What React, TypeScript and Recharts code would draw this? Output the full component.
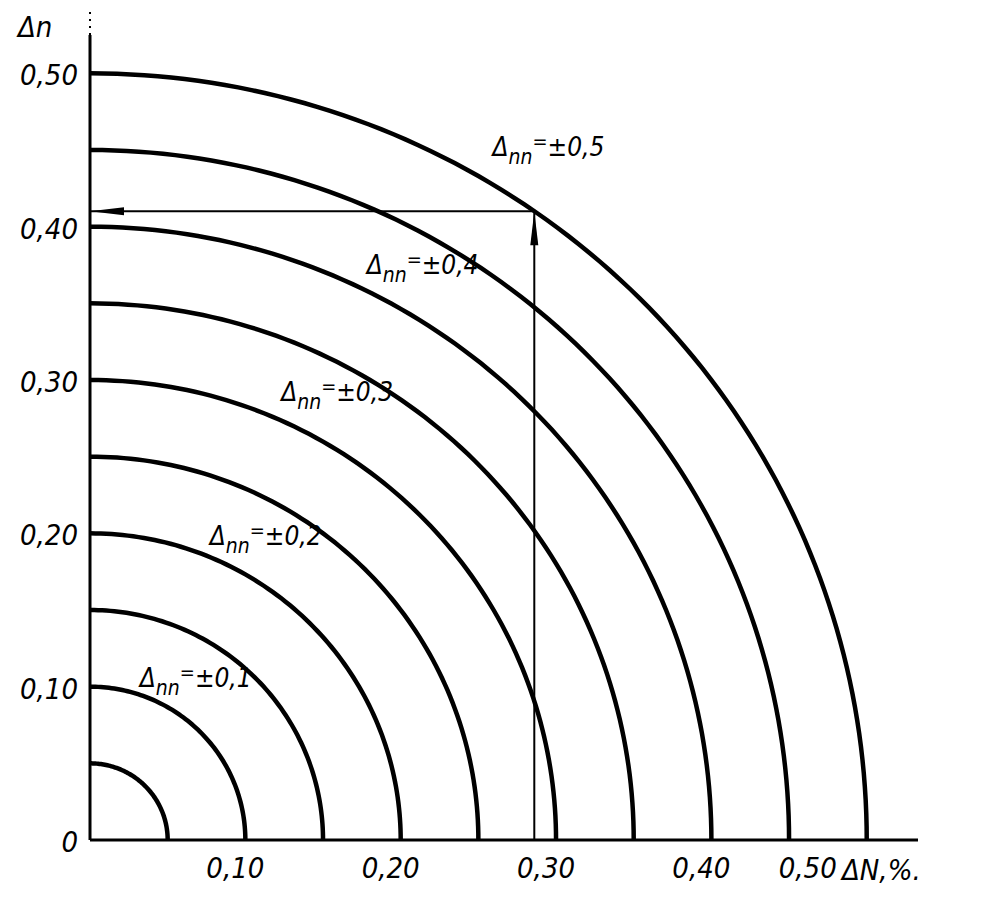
import React from 'react';
import { ComposedChart, Line, Scatter, XAxis, YAxis, Label } from 'recharts';

// Radii of the constant-error curves (Δ = ±r), in %
const radii = [0.05, 0.1, 0.15, 0.2, 0.25, 0.3, 0.35, 0.4, 0.45, 0.5];
// Angles (degrees) at which each quarter-circle is sampled
const sampleAngles = Array.from({ length: 91 }, (_, i) => i);
const xTicks = [0.1, 0.2, 0.3, 0.4, 0.5];
const xTickLabels = ['0,10', '0,20', '0,30', '0,40', '0,50'];
const yTicks = [0, 0.1, 0.2, 0.3, 0.4, 0.5];
const yTickLabels = ['0', '0,10', '0,20', '0,30', '0,40', '0,50'];
// Curve labels
const labelValues = ['±0,1', '±0,2', '±0,3', '±0,4', '±0,5'];
const labelX = [0.063, 0.108, 0.154, 0.209, 0.29];
const labelY = [0.104, 0.196, 0.29, 0.373, 0.45];
// Example reading (arrow)
const readX = 0.286;
const readY = 0.41;

const FONT = '"DejaVu Sans Condensed", "Liberation Sans Narrow", "DejaVu Sans", sans-serif';

const circle = (r: number) =>
  sampleAngles.map((a) => ({
    x: r * Math.cos((a * Math.PI) / 180),
    y: r * Math.sin((a * Math.PI) / 180),
  }));

const labelData = labelValues.map((v, i) => ({ x: labelX[i], y: labelY[i], text: v }));
const vertArrow = [
  { x: readX, y: 0 },
  { x: readX, y: readY },
];
const horizArrow = [
  { x: readX, y: readY },
  { x: 0, y: readY },
];

const CurveLabel = (props: any) => {
  const { cx, cy, payload } = props;
  if (cx == null || cy == null) return null;
  return (
    <text
      x={cx - 48}
      y={cy + 6}
      fontFamily={FONT}
      fontStyle="italic"
      fontSize={26}
      fill="#000"
    >
      <tspan>Δ</tspan>
      <tspan dy={8} fontSize={21}>nn</tspan>
      <tspan dy={-16} fontSize={20}>=</tspan>
      <tspan dy={8}>{payload.text}</tspan>
    </text>
  );
};

const upArrowDot = (props: any) => {
  const { cx, cy, index } = props;
  if (index !== 1) return <g key={`u${index}`} />;
  return <path key="up" d={`M${cx},${cy} L${cx - 4},${cy + 34} L${cx + 4},${cy + 34} Z`} fill="#000" />;
};
const leftArrowDot = (props: any) => {
  const { cx, cy, index } = props;
  if (index !== 1) return <g key={`l${index}`} />;
  return <path key="left" d={`M${cx},${cy} L${cx + 34},${cy - 4} L${cx + 34},${cy + 4} Z`} fill="#000" />;
};

const XTick = (props: any) => {
  const { x, y, payload } = props;
  const i = xTicks.indexOf(payload.value);
  const last = i === xTicks.length - 1;
  return (
    <text
      x={last ? x - 30 : x - 10}
      y={y + 30}
      textAnchor={last ? 'end' : 'middle'}
      fontFamily={FONT}
      fontStyle="italic"
      fontSize={29}
      fill="#000"
    >
      {xTickLabels[i]}
    </text>
  );
};
const YTick = (props: any) => {
  const { x, y, payload } = props;
  const i = yTicks.indexOf(payload.value);
  return (
    <text x={x - 4} y={y + 12} textAnchor="end" fontFamily={FONT} fontStyle="italic" fontSize={29} fill="#000">
      {yTickLabels[i]}
    </text>
  );
};

export default function App() {
  return (
    <div style={{ position: 'absolute', left: 0, top: 0, width: 1000, height: 904, background: '#fff' }}>
      <ComposedChart width={1000} height={904} margin={{ top: 35, right: 82, bottom: 0, left: 0 }}>
        <XAxis
          type="number"
          dataKey="x"
          domain={[0, 0.533]}
          ticks={xTicks}
          tick={<XTick />}
          tickLine={false}
          axisLine={{ stroke: '#000', strokeWidth: 3 }}
          height={64}
          allowDataOverflow
        >
          <Label
            content={(p: any) => {
              const vb = p.viewBox;
              return (
                <text x={vb.x + vb.width - 76} y={vb.y + 40} fontFamily={FONT} fontStyle="italic" fontSize={29} fill="#000">
                  ΔN,%.
                </text>
              );
            }}
          />
        </XAxis>
        <YAxis
          type="number"
          dataKey="y"
          domain={[0, 0.525]}
          ticks={yTicks}
          tick={<YTick />}
          tickLine={false}
          axisLine={{ stroke: '#000', strokeWidth: 3 }}
          width={90}
          allowDataOverflow
        >
          <Label
            content={(p: any) => {
              const vb = p.viewBox;
              return (
                <g>
                  <text x={18} y={vb.y + 2} fontFamily={FONT} fontStyle="italic" fontSize={29} fill="#000">
                    Δn
                  </text>
                  <line x1={vb.x + vb.width} y1={vb.y} x2={vb.x + vb.width} y2={vb.y - 26} stroke="#000" strokeWidth={2} strokeDasharray="2 5" />
                </g>
              );
            }}
          />
        </YAxis>
        {radii.map((r) => (
          <Line
            key={r}
            data={circle(r)}
            dataKey="y"
            type="linear"
            stroke="#000"
            strokeWidth={4.5}
            dot={false}
            activeDot={false}
            isAnimationActive={false}
          />
        ))}
        <Line data={vertArrow} dataKey="y" stroke="#000" strokeWidth={2} dot={upArrowDot} activeDot={false} isAnimationActive={false} />
        <Line data={horizArrow} dataKey="y" stroke="#000" strokeWidth={2} dot={leftArrowDot} activeDot={false} isAnimationActive={false} />
        <Scatter data={labelData} dataKey="y" shape={<CurveLabel />} isAnimationActive={false} />
      </ComposedChart>
    </div>
  );
}
